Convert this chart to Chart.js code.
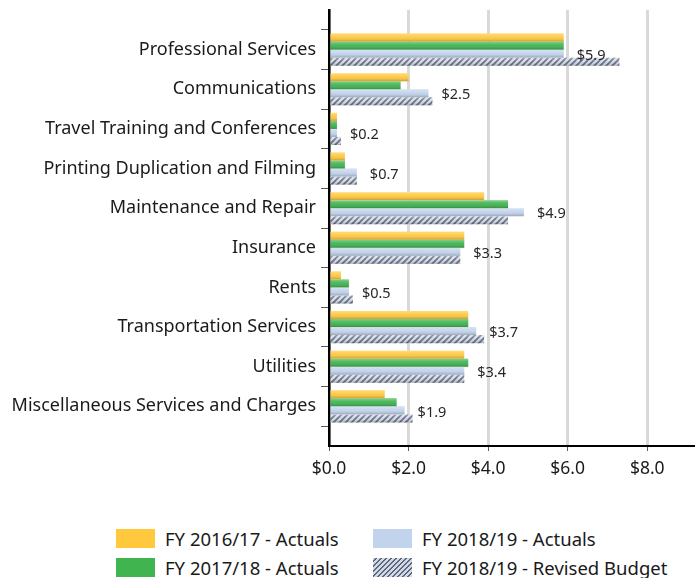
<!DOCTYPE html>
<html>
<head>
<meta charset="utf-8">
<script src="https://cdn.jsdelivr.net/npm/chart.js@4.4.1/dist/chart.umd.min.js"></script>
<style>
  body { margin: 0; background: #fff; font-family: "Noto Sans", sans-serif; }
  #wrap { position: relative; width: 695px; height: 578px; }
  #chart { position: absolute; left: 0; top: 0; }
  .legend { position: absolute; left: 116px; top: 527px; display: grid; grid-template-columns: 257px 320px; row-gap: 6px; }
  .item { display: flex; align-items: center; font-size: 18.5px; color: #1a1a1a; height: 23px; white-space: nowrap; }
  .sw { width: 39px; height: 19px; margin-right: 10px; flex: none; }
</style>
</head>
<body>
<div id="wrap">
  <canvas id="chart" width="695" height="500"></canvas>
  <div class="legend" id="legend"></div>
</div>
<script>
const categories = [
  'Professional Services',
  'Communications',
  'Travel Training and Conferences',
  'Printing Duplication and Filming',
  'Maintenance and Repair',
  'Insurance',
  'Rents',
  'Transportation Services',
  'Utilities',
  'Miscellaneous Services and Charges'
];
const fy1617Actuals = [5.9, 2.0, 0.2, 0.4, 3.9, 3.4, 0.3, 3.5, 3.4, 1.4];
const fy1718Actuals = [5.9, 1.8, 0.2, 0.4, 4.5, 3.4, 0.5, 3.5, 3.5, 1.7];
const fy1819Actuals = [5.9, 2.5, 0.2, 0.7, 4.9, 3.3, 0.5, 3.7, 3.4, 1.9];
const fy1819Revised = [7.3, 2.6, 0.3, 0.7, 4.5, 3.3, 0.6, 3.9, 3.4, 2.1];
const xTicks = [0, 2, 4, 6, 8];

// empty slot above and below, like the original axis
const labels = ['', ...categories, ''];
const pad = arr => [null, ...arr, null];

// hatch pattern for the revised budget
function makeHatch() {
  const c = document.createElement('canvas');
  c.width = 6; c.height = 6;
  const g = c.getContext('2d');
  g.fillStyle = '#d3d9e4';
  g.fillRect(0, 0, 6, 6);
  g.strokeStyle = '#5d6880';
  g.lineWidth = 1.6;
  g.beginPath();
  g.moveTo(0, 6); g.lineTo(6, 0);
  g.moveTo(-3, 3); g.lineTo(3, -3);
  g.moveTo(3, 9); g.lineTo(9, 3);
  g.stroke();
  return document.getElementById('chart').getContext('2d').createPattern(c, 'repeat');
}

const series = [
  { label: 'FY 2016/17 - Actuals', data: fy1617Actuals, color: '#ffc83d' },
  { label: 'FY 2017/18 - Actuals', data: fy1718Actuals, color: '#3fb44f' },
  { label: 'FY 2018/19 - Actuals', data: fy1819Actuals, color: '#c2d3ec' },
  { label: 'FY 2018/19 - Revised Budget', data: fy1819Revised, color: makeHatch() }
];

// glossy shading on each bar
const shade = {
  id: 'shade',
  afterDatasetsDraw(chart) {
    const ctx = chart.ctx;
    chart.data.datasets.forEach((ds, i) => {
      chart.getDatasetMeta(i).data.forEach(bar => {
        if (bar.skip) return;
        const { x, y, base, height } = bar.getProps(['x', 'y', 'base', 'height'], true);
        if (!isFinite(y)) return;
        const top = y - height / 2;
        const gr = ctx.createLinearGradient(0, top, 0, top + height);
        gr.addColorStop(0, 'rgba(255,255,255,0.35)');
        gr.addColorStop(0.45, 'rgba(255,255,255,0.05)');
        gr.addColorStop(1, 'rgba(0,0,0,0.22)');
        ctx.save();
        ctx.fillStyle = gr;
        ctx.fillRect(base, top, x - base, height);
        ctx.restore();
      });
    });
  }
};

// value labels next to FY 2018/19 actuals
const valueLabels = {
  id: 'valueLabels',
  afterDatasetsDraw(chart) {
    const ctx = chart.ctx;
    const meta = chart.getDatasetMeta(2);
    ctx.save();
    ctx.font = '14.5px "Noto Sans"';
    ctx.fillStyle = '#262626';
    ctx.textAlign = 'left';
    ctx.textBaseline = 'middle';
    meta.data.forEach((bar, i) => {
      const v = chart.data.datasets[2].data[i];
      if (v == null) return;
      ctx.fillText('$' + v.toFixed(1), bar.x + 13, bar.y + 2);
    });
    ctx.restore();
  }
};

new Chart(document.getElementById('chart'), {
  type: 'bar',
  data: {
    labels: labels,
    datasets: series.map(s => ({
      label: s.label,
      data: pad(s.data),
      backgroundColor: s.color,
      borderWidth: 0,
      barPercentage: 1,
      categoryPercentage: 0.81
    }))
  },
  options: {
    indexAxis: 'y',
    responsive: false,
    animation: false,
    layout: { padding: { top: 10, right: 0, left: 0, bottom: 0 } },
    plugins: {
      legend: { display: false },
      tooltip: { enabled: false }
    },
    scales: {
      x: {
        min: 0,
        max: 9.2,
        afterBuildTicks: s => { s.ticks = xTicks.map(v => ({ value: v })); },
        afterFit: s => { s.height = 54; s.paddingRight = 0; },
        border: { color: '#000', width: 2 },
        grid: { color: '#d9d9d9', lineWidth: 3, tickColor: '#595959', tickWidth: 1, tickLength: 5 },
        ticks: {
          padding: 8,
          color: '#1a1a1a',
          font: { family: 'Noto Sans', size: 17.5 },
          callback: v => '$' + Number(v).toFixed(1)
        }
      },
      y: {
        offset: false,
        afterFit: s => { s.width = 329; s.paddingTop = 0; s.paddingBottom = 0; },
        border: { color: '#000', width: 2.5 },
        grid: { drawOnChartArea: false, drawTicks: true, tickColor: '#595959', tickWidth: 1, tickLength: 8 },
        ticks: {
          padding: 5,
          autoSkip: false,
          color: '#1a1a1a',
          font: { family: 'Noto Sans', size: 18 }
        }
      }
    }
  },
  plugins: [shade, valueLabels]
});

// legend in 2 columns, same order as the original
const legendOrder = [0, 2, 1, 3];
const legend = document.getElementById('legend');
legendOrder.forEach(i => {
  const s = series[i];
  const item = document.createElement('div');
  item.className = 'item';
  const sw = document.createElement('span');
  sw.className = 'sw';
  if (i === 3) {
    sw.style.background = 'repeating-linear-gradient(135deg, #d3d9e4 0 2px, #5d6880 2px 3.5px)';
  } else {
    sw.style.background = s.color;
  }
  item.appendChild(sw);
  item.appendChild(document.createTextNode(s.label));
  legend.appendChild(item);
});
</script>
</body>
</html>
